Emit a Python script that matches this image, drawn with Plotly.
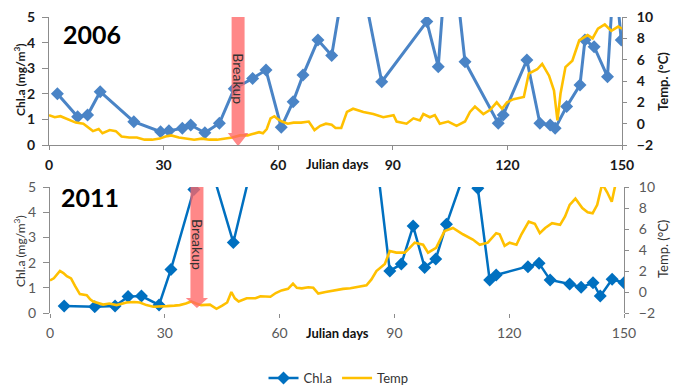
import plotly.graph_objects as go

# ---------------- data ----------------
chl_2006_days = [2.2, 7.5, 10.1, 13.4, 22.2, 29.2, 31.4, 34.9, 37.1, 40.8, 44.6, 48.5, 53.3, 56.8,
                 60.8, 63.9, 66.5, 70.4, 74.0, 79.4, 87.1, 98.9, 101.9, 104.8, 108.9, 117.6, 118.9,
                 125.1, 128.5, 131.2, 132.5, 135.5, 139.0, 140.3, 142.7, 146.2, 148.0, 149.8]
chl_2006_vals = [2.0, 1.1, 1.17, 2.08, 0.91, 0.52, 0.56, 0.65, 0.78, 0.48, 0.85, 2.2, 2.6, 2.93,
                 0.69, 1.69, 2.73, 4.1, 3.5, 8.3, 2.47, 4.82, 3.06, 8.8, 3.25, 0.85, 1.17,
                 3.32, 0.85, 0.78, 0.65, 1.5, 2.34, 4.1, 3.84, 2.67, 7.0, 4.1]

temp_2006_days = [0, 1.5, 3, 5, 7, 9, 10.3, 11.5, 13, 14, 15.9, 17.5, 19, 21, 23, 25, 27, 29, 30.5,
                  32, 34, 36, 38, 40, 42, 44, 46, 48, 50, 52, 53, 55, 56, 57, 58, 59, 60, 61, 62.5,
                  64, 66, 68, 69.5, 71, 72.5, 74, 75, 76.5, 78, 79.6, 82.3, 84.9, 87.5, 90.2, 91,
                  93.6, 95.4, 97.1, 98, 99.7, 101, 102.3, 104.5, 106.7, 108.9, 110.2, 111.5, 113.7,
                  115.5, 117.2, 118.6, 119.9, 121.6, 124.3, 125.6, 127.8, 129.1, 130.9, 132.2,
                  133.1, 133.9, 135.2, 137, 138.8, 141, 142.3, 143.7, 145.5, 147.2, 149, 150]
temp_2006_vals = [0.8, 0.6, 0.7, 0.4, 0.1, 0.0, -0.4, -0.7, -0.5, -0.9, -0.6, -0.7, -1.2, -1.3,
                  -1.3, -1.5, -1.5, -1.4, -1.2, -1.1, -1.3, -1.4, -1.5, -1.4, -1.5, -1.5, -1.4,
                  -1.3, -1.1, -1.1, -1.0, -0.8, -0.9, -0.5, 0.5, 0.7, 0.4, 0.2, 0.0, 0.1, 0.1, 0.2,
                  -0.6, -0.2, 0.0, -0.1, -0.4, -0.4, 1.1, 1.4, 1.1, 0.9, 0.6, 0.8, 0.2, 0.0, 0.5,
                  0.3, 0.9, 0.6, 0.8, 0.0, 0.2, -0.2, 0.2, 1.1, 1.6, 0.9, 1.3, 2.0, 1.4, 2.0, 2.3,
                  2.5, 4.7, 5.1, 5.6, 4.5, 3.1, 0.3, 2.8, 5.3, 5.9, 7.8, 8.3, 8.0, 8.9, 9.3, 8.7,
                  9.1, 8.9]

chl_2011_days = [3.7, 11.7, 17.0, 20.4, 23.9, 28.5, 31.6, 37.6, 40.5, 47.9, 74.7, 88.8, 91.8,
                 94.9, 97.9, 100.8, 103.6, 110.0, 111.8, 114.9, 116.6, 124.9, 127.8, 130.7,
                 135.8, 138.8, 141.9, 143.8, 146.9, 150.0]
chl_2011_vals = [0.28, 0.25, 0.28, 0.65, 0.67, 0.32, 1.73, 4.9, 6.6, 2.8, 19.7, 1.67, 1.94,
                 3.45, 1.81, 2.14, 3.52, 6.3, 4.95, 1.31, 1.51, 1.84, 1.97, 1.31,
                 1.15, 1.02, 1.2, 0.67, 1.34, 1.2]

temp_2011_days = [0, 1, 2.6, 3.5, 4.4, 5.5, 6.5, 7.8, 9.6, 10.5, 11.3, 13.9, 15.5, 17.4, 20, 22,
                  23.5, 25.2, 27, 28.7, 30.5, 32.5, 33.9, 35.5, 36.9, 38.2, 39.5, 41.8, 43.5, 45,
                  46.3, 47.4, 48.3, 49.3, 51.4, 53.7, 55, 57.6, 59, 60.5, 62.2, 63.5, 64.5, 65.8,
                  67.5, 68.8, 70.1, 72, 74, 76.6, 78.5, 80.1, 82.7, 84, 85.3, 87.5, 88.8, 90.5,
                  92.7, 94, 95.3, 97.5, 98.8, 100.9, 103.1, 105.3, 107.9, 110.5, 112.3, 114.4,
                  116.6, 117.5, 118.8, 120.1, 121.9, 123.2, 125.1, 126.7, 128, 129.4, 131.2,
                  133.3, 134.6, 135.8, 137.3, 139.1, 140.5, 141.8, 143, 144.3, 145.6, 146.8,
                  147.8, 150]
temp_2011_vals = [1.1, 1.3, 2.0, 1.8, 1.5, 1.3, 0.6, -0.2, -0.3, -0.7, -0.9, -1.2, -1.1, -1.25,
                  -1.0, -0.95, -1.0, -1.25, -1.4, -1.4, -1.35, -1.3, -1.25, -1.1, -0.9, -1.1,
                  -1.25, -1.2, -1.6, -1.3, -1.0, 0.0, -0.6, -0.9, -0.6, -0.6, -0.4, -0.45, -0.1,
                  0.15, 0.3, 0.8, 0.4, 0.35, 0.45, 0.4, -0.15, 0.0, 0.15, 0.3, 0.35, 0.47, 0.63,
                  1.2, 2.0, 2.66, 3.9, 3.75, 3.75, 4.2, 4.7, 4.5, 3.75, 4.2, 5.8, 6.1, 5.5, 5.0,
                  4.5, 4.7, 5.6, 5.5, 4.4, 4.7, 4.5, 5.5, 6.7, 6.5, 5.6, 6.1, 6.55, 6.4, 7.2, 8.3,
                  8.9, 8.0, 7.6, 7.5, 8.3, 10.3, 9.5, 8.6, 10.3, 10.2]

x_ticks = [0, 30, 60, 90, 120, 150]
chl_ticks = [0, 1, 2, 3, 4, 5]
temp_ticks = [-2, 0, 2, 4, 6, 8, 10]

breakup_2006 = 49.5
breakup_2011 = 38.4

# ---------------- styling ----------------
W, H = 673, 387
BLUE06 = "#4A84C6"
BLUE11 = "#0070C0"
YELLOW = "#FFC000"
AXIS = "#8C8C8C"
FONT = "Lato, Liberation Sans, sans-serif"


def px_x(p):
    return p / W


def px_y(p):
    return 1 - p / H


fig = go.Figure()
fig.add_trace(go.Scatter(x=chl_2006_days, y=chl_2006_vals, xaxis="x", yaxis="y",
                         mode="lines+markers", line=dict(color=BLUE06, width=3),
                         marker=dict(symbol="diamond", size=10, color=BLUE06),
                         showlegend=False, name="Chl.a"))
fig.add_trace(go.Scatter(x=temp_2006_days, y=temp_2006_vals, xaxis="x", yaxis="y2",
                         mode="lines", line=dict(color=YELLOW, width=2.6),
                         showlegend=False, name="Temp"))
fig.add_trace(go.Scatter(x=chl_2011_days, y=chl_2011_vals, xaxis="x2", yaxis="y3",
                         mode="lines+markers", line=dict(color=BLUE11, width=2.5),
                         marker=dict(symbol="diamond", size=10, color=BLUE11),
                         name="Chl.a"))
fig.add_trace(go.Scatter(x=temp_2011_days, y=temp_2011_vals, xaxis="x2", yaxis="y4",
                         mode="lines", line=dict(color=YELLOW, width=2.6),
                         name="Temp"))

common_axis = dict(showgrid=False, zeroline=False, linecolor=AXIS, linewidth=1,
                   ticks="outside", tickcolor=AXIS, tickwidth=1, automargin=False)

top_font = dict(family=FONT, size=14, color="#1a1a1a", weight="bold")
bot_font = dict(family=FONT, size=14, color="#595959")

fig.update_layout(
    width=W, height=H,
    margin=dict(l=0, r=0, t=0, b=0, autoexpand=False),
    paper_bgcolor="white", plot_bgcolor="white",
    font=dict(family=FONT, size=13, color="#222"),
    xaxis=dict(domain=[px_x(49), px_x(622)], anchor="y", range=[0, 150], tickvals=x_ticks,
               showline=True, tickfont=top_font, ticklen=4, ticklabelstandoff=3, **common_axis),
    yaxis=dict(domain=[px_y(145), px_y(17)], anchor="x", range=[0, 5], tickvals=chl_ticks,
               showline=True, tickfont=top_font, ticklen=6, ticklabelstandoff=4, **common_axis),
    yaxis2=dict(overlaying="y", side="right", anchor="x", range=[-2, 10], tickvals=temp_ticks,
                showline=True, tickfont=top_font, ticklen=4, ticklabelstandoff=7, **common_axis),
    xaxis2=dict(domain=[px_x(50), px_x(624)], anchor="y3", range=[0, 150], tickvals=x_ticks,
                showline=False, tickfont=bot_font, ticklen=4, ticklabelstandoff=3, **common_axis),
    yaxis3=dict(domain=[px_y(313), px_y(187)], anchor="x2", range=[0, 5], tickvals=chl_ticks,
                showline=True, tickfont=bot_font, ticklen=6, ticklabelstandoff=4, **common_axis),
    yaxis4=dict(overlaying="y3", side="right", anchor="x2", range=[-2, 10], tickvals=temp_ticks,
                showline=True, tickfont=bot_font, ticklen=4, ticklabelstandoff=7, **common_axis),
    legend=dict(orientation="h", x=0.503, xanchor="center", y=px_y(378), yanchor="middle",
                font=dict(family=FONT, size=13, color="#333"), bgcolor="rgba(0,0,0,0)"),
)


def arrow_path(cx, top, head_start, tip, shaft_half, head_half):
    return (f"M {cx - shaft_half},{top} L {cx + shaft_half},{top} "
            f"L {cx + shaft_half},{head_start} L {cx + head_half},{head_start} "
            f"L {cx},{tip} L {cx - head_half},{head_start} L {cx - shaft_half},{head_start} Z")


fig.add_shape(type="path", xref="x", yref="y", layer="above",
              path=arrow_path(breakup_2006, 5.0, 0.47, -0.05, 1.7, 2.7),
              fillcolor="#FF6666", opacity=0.78, line=dict(width=0))
fig.add_shape(type="path", xref="x2", yref="y3", layer="above",
              path=arrow_path(breakup_2011, 5.1, 0.6, 0.2, 1.7, 2.9),
              fillcolor="#FF6666", opacity=0.78, line=dict(width=0))

C = dict(xanchor="center", yanchor="middle", showarrow=False)
ann = []
ann.append(dict(x=breakup_2006, y=2.6, xref="x", yref="y", text="Breakup", textangle=90,
                font=dict(family=FONT, size=14, color="#333"), **C))
ann.append(dict(x=breakup_2011, y=2.7, xref="x2", yref="y3", text="Breakup", textangle=90,
                font=dict(family=FONT, size=14, color="#333"), **C))
ann.append(dict(x=px_x(92), y=px_y(34), xref="paper", yref="paper", text="<b>2006</b>",
                font=dict(family=FONT, size=25, color="black"), **C))
ann.append(dict(x=px_x(90), y=px_y(197), xref="paper", yref="paper", text="<b>2011</b>",
                font=dict(family=FONT, size=25, color="black"), **C))
for yy in (164, 333):
    ann.append(dict(x=px_x(337), y=px_y(yy), xref="paper", yref="paper",
                    text="<b>Julian days</b>", font=dict(family=FONT, size=13, color="#111"), **C))
ann.append(dict(x=px_x(20), y=px_y(80), xref="paper", yref="paper",
                text="<b>Chl.a (mg/m<sup>3</sup>)</b>", textangle=-90,
                font=dict(family=FONT, size=12, color="#1a1a1a"), **C))
ann.append(dict(x=px_x(20), y=px_y(251), xref="paper", yref="paper",
                text="Chl.a (mg/m<sup>3</sup>)", textangle=-90,
                font=dict(family=FONT, size=12, color="#333"), **C))
ann.append(dict(x=px_x(663), y=px_y(82), xref="paper", yref="paper",
                text="<b>Temp. (°C)</b>", textangle=-90,
                font=dict(family=FONT, size=13, color="#1a1a1a"), **C))
ann.append(dict(x=px_x(663), y=px_y(249), xref="paper", yref="paper",
                text="Temp. (°C)", textangle=-90,
                font=dict(family=FONT, size=13, color="#333"), **C))
fig.update_layout(annotations=ann)

fig.write_html("out.html", config={"displayModeBar": False},
               post_script="document.body.style.margin='0px';document.body.style.padding='0px';")
